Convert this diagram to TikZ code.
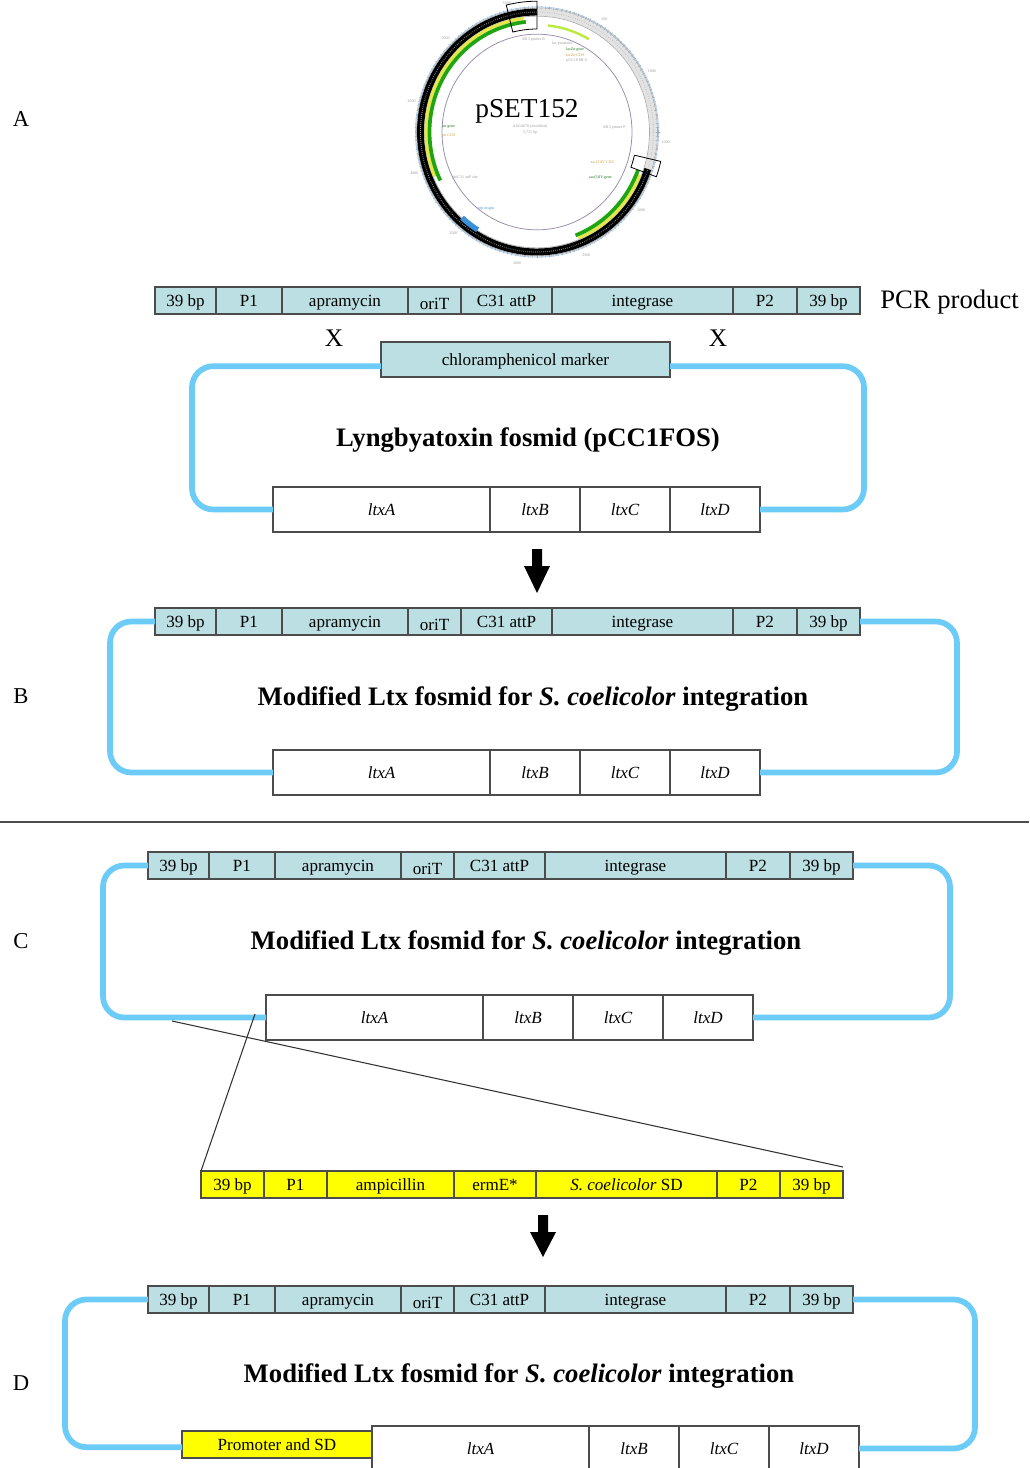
\documentclass[tikz,border=0pt]{standalone}
\usepackage{fontspec}
\setmainfont{Liberation Serif}
\usetikzlibrary{arrows.meta}

\definecolor{segfill}{HTML}{BBDFE2}
\definecolor{segline}{HTML}{4C4C4C}
\definecolor{loopblue}{HTML}{6CCBF7}
\definecolor{ypart}{HTML}{FFFF00}
\definecolor{mapgreen}{HTML}{1FA513}
\definecolor{mapyellow}{HTML}{E6E64A}
\definecolor{mapring}{HTML}{9C8FB0}
\definecolor{mapblue}{HTML}{3A8FD8}
\definecolor{maporange}{HTML}{C8A040}

% one rectangular cell of a construct, given by its pixel edges
\newcommand\segbox[7]{%
  \node[#1, anchor=north west,
        minimum width={((#4)-(#3))*0.75pt},
        minimum height={((#6)-(#5))*0.75pt}] (#2) at ({#3},{#5}) {#7};}

% the integration cassette (eight cells)
\newcommand\cassette[5]{%
  \segbox{#1}{#2a}{155+#3}{216+#3}{#4}{#5}{39 bp}
  \segbox{#1}{#2b}{216+#3}{282+#3}{#4}{#5}{P1}
  \segbox{#1}{#2c}{282+#3}{408+#3}{#4}{#5}{apramycin}
  \segbox{#1}{#2d}{408+#3}{461+#3}{#4}{#5}{\raisebox{-2.2pt}{oriT}}
  \segbox{#1}{#2e}{461+#3}{552+#3}{#4}{#5}{C31 attP}
  \segbox{#1}{#2f}{552+#3}{733+#3}{#4}{#5}{integrase}
  \segbox{#1}{#2g}{733+#3}{797+#3}{#4}{#5}{P2}
  \segbox{#1}{#2h}{797+#3}{860+#3}{#4}{#5}{39 bp}}

% the ltx gene cluster
\newcommand\ltxrow[4]{%
  \segbox{gene}{#1A}{#2}{#2+217}{#3}{#4}{ltxA}
  \segbox{gene}{#1B}{#2+217}{#2+307}{#3}{#4}{ltxB}
  \segbox{gene}{#1C}{#2+307}{#2+397}{#3}{#4}{ltxC}
  \segbox{gene}{#1D}{#2+397}{#2+487}{#3}{#4}{ltxD}}

\begin{document}
\begin{tikzpicture}[
  x=0.75pt, y=-0.75pt,
  seg/.style={draw=segline, line width=0.9pt, fill=segfill, inner sep=0pt, outer sep=0pt,
              font=\fontsize{12.8}{14}\selectfont, text height=10pt, text depth=1pt},
  yseg/.style={seg, fill=ypart},
  gene/.style={seg, fill=white, font=\fontsize{12.8}{14}\selectfont\itshape},
  loopline/.style={draw=loopblue, line width=4.3pt, rounded corners=16pt},
  title/.style={font=\fontsize{20}{24}\selectfont\bfseries, inner sep=0pt},
  panel/.style={font=\fontsize{17}{20}\selectfont, inner sep=0pt},
  cross/.style={font=\fontsize{19}{22}\selectfont, inner sep=0pt},
  zoomline/.style={draw=black!80, line width=0.8pt},
  tiny/.style={font=\fontsize{3}{3.5}\selectfont, inner sep=0pt},
]
\useasboundingbox (0,0) rectangle (1029,1468);

% ---------------- panel A: pSET152 map ----------------
\begin{scope}[shift={(537,132)}, yscale=-1.03]
  \draw[gray!22, line width=5.5pt] (0,0) circle[radius=116.5];
  \draw[gray!65, line width=0.5pt] (0,0) circle[radius=120.5];
  \draw[mapblue!60, line width=0.4pt] (0,0) circle[radius=121.5];
  \draw[gray!65, line width=0.5pt] (0,0) circle[radius=112.5];
  \foreach \a in {0,2,...,358} \draw[gray!70, line width=0.3pt] (\a:119) -- (\a:122.5);
  \draw[gray!55, line width=0.8pt, dash pattern=on 0.4pt off 1.4pt] (0,0) circle[radius=116.5];
  % sequence band
  \draw[black, line width=5.2pt] (90:116.5) arc[start angle=90, end angle=342, radius=116.5];
  \draw[gray!75, line width=0.8pt, dash pattern=on 0.4pt off 1.1pt]
       (90:116.5) arc[start angle=90, end angle=342, radius=116.5];
  % features
  \draw[mapyellow, line width=2.4pt] (97:111) arc[start angle=97, end angle=203, radius=111];
  \draw[mapgreen, line width=2.8pt] (96:107.5) arc[start angle=96, end angle=206, radius=107.5];
  \draw[mapyellow, line width=2.4pt] (292:111) arc[start angle=292, end angle=338, radius=111];
  \draw[mapgreen, line width=2.8pt] (291:107.5) arc[start angle=291, end angle=340, radius=107.5];
  \draw[mapyellow!80!green, line width=1.8pt] (84:104) arc[start angle=84, end angle=60, radius=104];
  \draw[mapblue, line width=4pt] (228:112) arc[start angle=228, end angle=238, radius=112];
  \draw[mapring, line width=0.6pt] (0,0) circle[radius=95];
  % selected regions
  \draw[black, line width=0.6pt] (90:100) -- (90:127) arc[start angle=90, end angle=104, radius=127]
       -- (104:100) arc[start angle=104, end angle=90, radius=100];
  \draw[black, line width=0.6pt] (-13:100) -- (-13:127) arc[start angle=-13, end angle=-20, radius=127]
       -- (-20:100) arc[start angle=-20, end angle=-13, radius=100];
  % scale numbers
  \foreach \n in {500,1000,...,5500}
    \node[tiny, text=gray!80, name=tk\n] at ({90-\n/5715*360}:129) {\n};
\end{scope}
\node[font=\fontsize{20.5}{24}\selectfont, inner sep=0pt] (pset) at (527,111) {pSET152};
\node[tiny, text=gray!80] (acc) at (530,127) {AJ414670 (modified)};
\node[tiny, text=gray!80] (len) at (530,133) {5,715 bp};
\node[tiny, anchor=west, text=mapgreen!70!black] (intg) at (442,127) {int gene};
\node[tiny, anchor=west, text=maporange] (intc) at (442,135) {int CDS};
\node[tiny, anchor=west, text=gray!80] (attp) at (452,178) {phiC31 attP site};
\node[tiny, anchor=west, text=mapblue] (rep) at (478,209) {rep origin};
\node[tiny, anchor=east, text=maporange] (aacc) at (614,163) {aac(3)IV CDS};
\node[tiny, anchor=east, text=mapgreen!70!black] (aacg) at (612,178) {aac(3)IV gene};
\node[tiny, anchor=west, text=gray!80] (m13f) at (603,128) {M13 primer F};
\node[tiny, anchor=west, text=gray!80] (m13r) at (522,40) {M13 primer R};
\node[tiny, anchor=west, text=gray!80] (plac) at (552,44) {lac promoter};
\node[tiny, anchor=west, text=mapgreen!70!black] (lacg) at (566,50) {lacZα gene};
\node[tiny, anchor=west, text=maporange] (lacc) at (566,55) {lacZα CDS};
\node[tiny, anchor=west, text=gray!80] (mcs) at (566,61) {pUC18 MCS};

\node[panel] (pA) at (21,119) {A};

% ---------------- panel A: PCR product and fosmid ----------------
\cassette{seg}{p}{0}{287}{314}
\node[font=\fontsize{20}{24}\selectfont, inner sep=0pt, anchor=west] (pcr) at (880,302) {PCR product};
\node[cross] (x1) at (334,338) {X};
\node[cross] (x2) at (718,338) {X};
\segbox{seg}{chl}{381}{670}{342}{377}{chloramphenicol marker}
\ltxrow{ag}{273}{487}{532}
\draw[loopline] ([yshift=-5pt]chl.west) -| (192,440) |- (agA.west);
\draw[loopline] ([yshift=-5pt]chl.east) -| (864,440) |- (agD.east);
\node[title] (tA) at (528,440) {Lyngbyatoxin fosmid (pCC1FOS)};

\fill (532,549) -- (542,549) -- (542,566) -- (550,566) -- (537,593) -- (524,566) -- (532,566) -- cycle;

% ---------------- panel B ----------------
\node[panel] (pB) at (21,696) {B};
\cassette{seg}{b}{0}{608}{635}
\ltxrow{bg}{273}{750}{795}
\draw[loopline] (ba.west) -| (110,700) |- (bgA.west);
\draw[loopline] (bh.east) -| (957,700) |- (bgD.east);
\node[title] (tB) at (533,699) {Modified Ltx fosmid for \textit{S. coelicolor} integration};

\draw[segline, line width=1.3pt] (0,822) -- (1029,822);

% ---------------- panel C ----------------
\node[panel] (pC) at (21,941) {C};
\cassette{seg}{c}{(-7)}{852}{879}
\ltxrow{cg}{266}{995}{1040}
\draw[loopline] (ca.west) -| (103,940) |- (cgA.west);
\draw[loopline] (ch.east) -| (950,940) |- (cgD.east);
\node[title] (tC) at (526,943) {Modified Ltx fosmid for \textit{S. coelicolor} integration};

\segbox{yseg}{ya}{201}{264}{1171}{1198}{39 bp}
\segbox{yseg}{yb}{264}{327}{1171}{1198}{P1}
\segbox{yseg}{yc}{327}{454}{1171}{1198}{ampicillin}
\segbox{yseg}{yd}{454}{536}{1171}{1198}{ermE*}
\segbox{yseg}{ye}{536}{717}{1171}{1198}{\textit{S. coelicolor} SD}
\segbox{yseg}{yf}{717}{780}{1171}{1198}{P2}
\segbox{yseg}{yg}{780}{843}{1171}{1198}{39 bp}

\coordinate (zl) at (172,1021);
\coordinate (zr) at (255,1014);
\draw[zoomline] (zl) -- ([yshift=3pt]yg.north east);
\draw[zoomline] (zr) -- (ya.north west);

\fill (538,1215) -- (548,1215) -- (548,1232) -- (556,1232) -- (543,1257) -- (530,1232) -- (538,1232) -- cycle;

% ---------------- panel D ----------------
\node[panel] (pD) at (21,1383) {D};
\cassette{seg}{d}{(-7)}{1286}{1313}
\segbox{yseg}{prom}{182}{372}{1431}{1458}{Promoter and SD}
\ltxrow{dg}{372}{1426}{1471}
\draw[loopline] (da.west) -| (65,1375) |- ([yshift=-2pt]prom.west);
\draw[loopline] (dh.east) -| (975,1375) |- (dgD.east);
\node[title] (tD) at (519,1376) {Modified Ltx fosmid for \textit{S. coelicolor} integration};
\end{tikzpicture}
\end{document}
